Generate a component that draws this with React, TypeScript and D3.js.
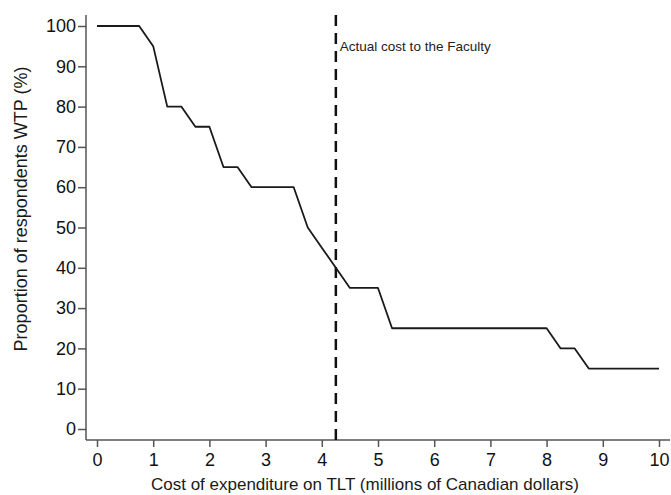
import React, { useEffect, useRef } from 'react'
import { axisBottom, axisLeft, line, scaleLinear, select } from 'd3'

// cost in millions CAD vs share of respondents willing to pay
const costs = [0, 0.75, 1, 1.25, 1.5, 1.75, 2, 2.25, 2.5, 2.75, 3.5, 3.75, 4, 4.25, 4.5, 5, 5.25, 8, 8.25, 8.5, 8.75, 10]
const wtp = [100, 100, 95, 80, 80, 75, 75, 65, 65, 60, 60, 50, 45, 40, 35, 35, 25, 25, 20, 20, 15, 15]
const xTicks = [0, 1, 2, 3, 4, 5, 6, 7, 8, 9, 10]
const yTicks = [0, 10, 20, 30, 40, 50, 60, 70, 80, 90, 100]
const actualCost = 4.25
const actualLabel = 'Actual cost to the Faculty'

const FONT = '"Liberation Sans", Arial, Helvetica, sans-serif'

const styleAxis = (g) => {
  g.select('.domain').remove()
  g.selectAll('.tick line').attr('stroke', '#555').attr('stroke-width', 1.5)
  g.selectAll('.tick text')
    .attr('fill', '#111')
    .style('font-family', FONT)
    .style('font-size', '18px')
}

const AxisBottom = ({ scale, transform }) => {
  const ref = useRef(null)
  useEffect(() => {
    if (ref.current) {
      const g = select(ref.current)
      g.call(axisBottom(scale).tickValues(xTicks).tickSize(7).tickPadding(6).tickFormat((d) => String(d)))
      styleAxis(g)
    }
  }, [scale])
  return <g ref={ref} transform={transform} />
}

const AxisLeft = ({ scale, transform }) => {
  const ref = useRef(null)
  useEffect(() => {
    if (ref.current) {
      const g = select(ref.current)
      g.call(axisLeft(scale).tickValues(yTicks).tickSize(8).tickPadding(2).tickFormat((d) => String(d)))
      styleAxis(g)
    }
  }, [scale])
  return <g ref={ref} transform={transform} />
}

const App = () => {
  const width = 671
  const height = 495
  const axisX = 86
  const axisY = 440
  const top = 15

  const x = scaleLinear().domain([0, 10]).range([97, 659])
  const y = scaleLinear().domain([0, 100]).range([429, 26])

  const pts: [number, number][] = costs.map((c, i) => [c, wtp[i]])
  const path = line<[number, number]>()
    .x((d) => x(d[0]))
    .y((d) => y(d[1]))(pts)

  return (
    <svg
      width={width}
      height={height}
      style={{ position: 'absolute', left: 0, top: 0, background: '#fff' }}
    >
      <rect width={width} height={height} fill="#fff" />
      {/* axis lines */}
      <line x1={axisX} x2={axisX} y1={top} y2={axisY} stroke="#555" strokeWidth={1.5} />
      <line x1={axisX} x2={670} y1={axisY} y2={axisY} stroke="#555" strokeWidth={1.5} />
      <AxisLeft scale={y} transform={`translate(${axisX},0)`} />
      <AxisBottom scale={x} transform={`translate(0,${axisY})`} />

      {/* reference line */}
      <line
        x1={x(actualCost)}
        x2={x(actualCost)}
        y1={top}
        y2={axisY}
        stroke="#111"
        strokeWidth={2.5}
        strokeDasharray="11 7"
      />
      <text
        x={x(actualCost) + 4}
        y={51}
        fontFamily={FONT}
        fontSize={13.5}
        fill="#222"
      >
        {actualLabel}
      </text>

      <path d={path} fill="none" stroke="#1a1a1a" strokeWidth={1.8} strokeLinejoin="round" />

      {/* axis titles */}
      <text
        x={365}
        y={490}
        textAnchor="middle"
        fontFamily={FONT}
        fontSize={17}
        fill="#1a1a1a"
      >
        Cost of expenditure on TLT (millions of Canadian dollars)
      </text>
      <text
        transform="translate(27,209) rotate(-90)"
        textAnchor="middle"
        fontFamily={FONT}
        fontSize={18}
        fill="#1a1a1a"
      >
        Proportion of respondents WTP (%)
      </text>
    </svg>
  )
}

export default App
